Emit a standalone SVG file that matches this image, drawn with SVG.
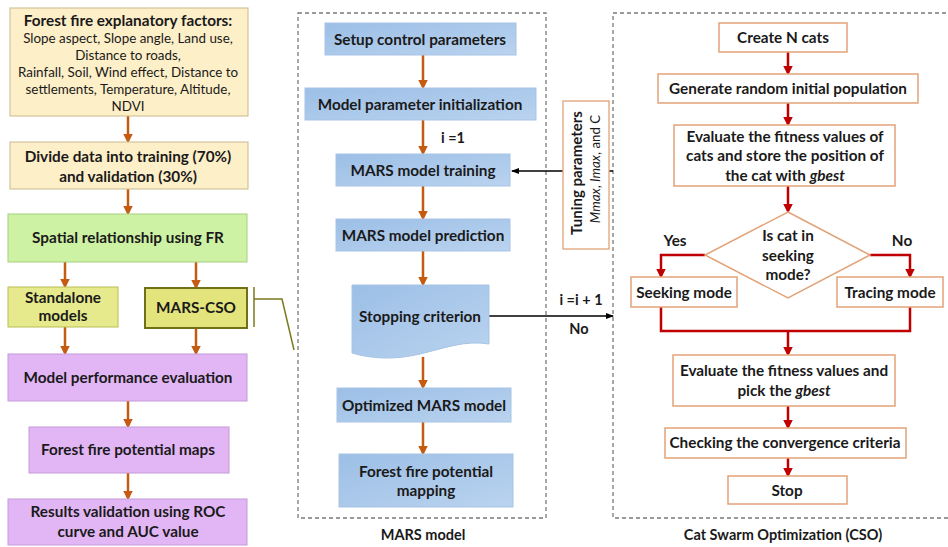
<svg xmlns="http://www.w3.org/2000/svg" width="948" height="547" viewBox="0 0 948 547">
<style>
text{font-family:Lato,"Open Sans","Liberation Sans",sans-serif;font-weight:bold;font-size:15.3px;fill:#1a1a1a;text-anchor:middle}
.reg{font-weight:normal;font-size:13.4px}
.it{font-style:italic}
.cap{font-size:14.5px}
.yel{fill:#fdefc8;stroke:#c9b98d;stroke-width:1}
.grn{fill:#cdf2a4;stroke:#a6cf80;stroke-width:1}
.olv{fill:#e6ea8c;stroke:#b9bd55;stroke-width:1}
.olvb{fill:#e3e57c;stroke:#707018;stroke-width:2}
.pur{fill:#e2b6f5;stroke:#c59ad8;stroke-width:1}
.blu{fill:url(#bg);stroke:#a7c3e5;stroke-width:1}
.cso{fill:#fff;stroke:#e2a378;stroke-width:1.5}
.dash{fill:none;stroke:#7a7a7a;stroke-width:1.3;stroke-dasharray:4 3}
.oa{stroke:#c55a11;stroke-width:2.5;fill:none;marker-end:url(#ao)}
.ra{stroke:#c00000;stroke-width:2.5;fill:none}
.rae{stroke:#c00000;stroke-width:2.5;fill:none;marker-end:url(#ar)}
.ba{stroke:#000;stroke-width:1.5;fill:none;marker-end:url(#ab)}
</style>
<defs>
<linearGradient id="bg" x1="0" y1="0" x2="1" y2="1">
<stop offset="0" stop-color="#9cbfe6"/>
<stop offset="1" stop-color="#bad3ef"/>
</linearGradient>
<marker id="ao" markerWidth="4" markerHeight="4" refX="3" refY="2" orient="auto" markerUnits="strokeWidth">
<path d="M0,0 L4,2 L0,4 Z" fill="#c55a11"/>
</marker>
<marker id="ar" markerWidth="4" markerHeight="4" refX="3" refY="2" orient="auto" markerUnits="strokeWidth">
<path d="M0,0 L4,2 L0,4 Z" fill="#c00000"/>
</marker>
<marker id="ab" markerWidth="8" markerHeight="6" refX="7" refY="3" orient="auto" markerUnits="userSpaceOnUse">
<path d="M0,0 L8,3 L0,6 Z" fill="#000"/>
</marker>
</defs>

<!-- containers -->
<g id="mars-container">
<rect class="dash" x="298" y="13" width="248" height="505"/>
<text x="423" y="540" class="cap">MARS model</text>
</g>
<g id="cso-container">
<path class="dash" d="M960,13 H613 V518 H960"/>
<text x="783" y="540" class="cap">Cat Swarm Optimization (CSO)</text>
</g>

<!-- connectors -->
<g id="connectors">
<line class="oa" x1="128" y1="116" x2="128" y2="141"/>
<line class="oa" x1="128" y1="189" x2="128" y2="213"/>
<line class="oa" x1="65" y1="262" x2="65" y2="286"/>
<line class="oa" x1="196" y1="262" x2="196" y2="287"/>
<line class="oa" x1="65" y1="327" x2="65" y2="353"/>
<line class="oa" x1="196" y1="328" x2="196" y2="353"/>
<line class="oa" x1="128" y1="401" x2="128" y2="426"/>
<line class="oa" x1="128" y1="473" x2="128" y2="498"/>
<polyline points="254,287 254,327" fill="none" stroke="#7a7a1e" stroke-width="1.5"/>
<polyline points="254,299 282,299 294,350" fill="none" stroke="#7a7a1e" stroke-width="1.5"/>

<line class="oa" x1="423" y1="55" x2="423" y2="87"/>
<line class="oa" x1="423" y1="120" x2="423" y2="153"/>
<line class="oa" x1="423" y1="186" x2="423" y2="218"/>
<line class="oa" x1="423" y1="251" x2="423" y2="284"/>
<line class="oa" x1="423" y1="357" x2="423" y2="387"/>
<line class="oa" x1="423" y1="422" x2="423" y2="453"/>
<text x="453" y="143" class="cap">i =1</text>

<line class="ba" x1="613" y1="171" x2="512" y2="171"/>
<line class="ba" x1="489" y1="316" x2="613" y2="316"/>
<text x="581" y="305" class="cap">i =i + 1</text>
<text x="579" y="334" class="cap">No</text>

<line class="rae" x1="788" y1="52" x2="788" y2="73"/>
<line class="rae" x1="788" y1="103" x2="788" y2="124"/>
<line class="rae" x1="788" y1="186" x2="788" y2="211"/>
<polyline class="rae" points="705,255 661,255 661,276"/>
<polyline class="rae" points="870,255 910,255 910,276"/>
<polyline class="ra" points="661,307 661,331 910,331 910,307"/>
<line class="rae" x1="788" y1="331" x2="788" y2="354"/>
<line class="rae" x1="788" y1="406" x2="788" y2="427"/>
<line class="rae" x1="788" y1="458" x2="788" y2="475"/>
<text x="675" y="246">Yes</text>
<text x="902" y="246">No</text>
</g>

<!-- left column -->
<g id="factors">
<rect class="yel" x="10" y="8" width="238" height="108"/>
<text x="128" y="26">Forest fire explanatory factors:</text>
<text x="128" y="43" class="reg">Slope aspect, Slope angle, Land use,</text>
<text x="128" y="60" class="reg">Distance to roads,</text>
<text x="128" y="77" class="reg">Rainfall, Soil, Wind effect, Distance to</text>
<text x="128" y="94" class="reg">settlements, Temperature, Altitude,</text>
<text x="128" y="111" class="reg">NDVI</text>
</g>
<g id="divide">
<rect class="yel" x="10" y="142" width="238" height="47"/>
<text x="128" y="162">Divide data into training (70%)</text>
<text x="128" y="182">and validation (30%)</text>
</g>
<g id="spatial">
<rect class="grn" x="8" y="214" width="239" height="48"/>
<text x="128" y="243">Spatial relationship using FR</text>
</g>
<g id="standalone">
<rect class="olv" x="8" y="287" width="110" height="40"/>
<text x="63" y="303">Standalone</text>
<text x="63" y="321">models</text>
</g>
<g id="marscso">
<rect class="olvb" x="145" y="288" width="102" height="40"/>
<text x="196" y="313">MARS-CSO</text>
</g>
<g id="performance">
<rect class="pur" x="8" y="354" width="239" height="47"/>
<text x="128" y="383">Model performance evaluation</text>
</g>
<g id="maps">
<rect class="pur" x="29" y="427" width="200" height="46"/>
<text x="128" y="455">Forest fire potential maps</text>
</g>
<g id="results">
<rect class="pur" x="8" y="499" width="239" height="46"/>
<text x="128" y="517">Results validation using ROC</text>
<text x="128" y="537">curve and AUC value</text>
</g>

<!-- MARS column -->
<g id="setup">
<rect class="blu" x="325" y="23" width="191" height="32"/>
<text x="420" y="45">Setup control parameters</text>
</g>
<g id="init">
<rect class="blu" x="305" y="88" width="231" height="32"/>
<text x="420" y="110">Model parameter initialization</text>
</g>
<g id="training">
<rect class="blu" x="336" y="154" width="174" height="32"/>
<text x="423" y="176">MARS model training</text>
</g>
<g id="prediction">
<rect class="blu" x="336" y="219" width="174" height="32"/>
<text x="423" y="241">MARS model prediction</text>
</g>
<g id="stopping">
<path class="blu" d="M352,285 H489 V344 C465,340 445,348 420,354 C395,360 372,359 352,353 Z"/>
<text x="420" y="322">Stopping criterion</text>
</g>
<g id="optimized">
<rect class="blu" x="337" y="388" width="174" height="34"/>
<text x="424" y="411">Optimized MARS model</text>
</g>
<g id="mapping">
<rect class="blu" x="339" y="454" width="174" height="53"/>
<text x="426" y="477">Forest fire potential</text>
<text x="426" y="496">mapping</text>
</g>

<!-- tuning -->
<g id="tuning">
<rect x="563" y="101" width="46" height="148" fill="#fff" stroke="#e2a378" stroke-width="1.3"/>
<text transform="translate(582,173) rotate(-90)" style="font-size:15px">Tuning parameters</text>
<text transform="translate(600,169) rotate(-90)" style="font-weight:normal;font-size:13.3px"><tspan class="it">Mmax</tspan>, <tspan class="it">Imax</tspan>, and C</text>
</g>

<!-- CSO column -->
<g id="create">
<rect class="cso" x="719" y="23" width="128" height="29"/>
<text x="783" y="43">Create N cats</text>
</g>
<g id="generate">
<rect class="cso" x="658" y="74" width="260" height="29"/>
<text x="788" y="94">Generate random initial population</text>
</g>
<g id="evaluate1">
<rect class="cso" x="674" y="125" width="221" height="61"/>
<text x="785" y="142">Evaluate the fitness values of</text>
<text x="785" y="161">cats and store the position of</text>
<text x="785" y="181">the cat with <tspan class="it">gbest</tspan></text>
</g>
<g id="decision">
<polygon points="788,212 870,255 788,298 705,255" fill="#fff" stroke="#e2a378" stroke-width="1.5"/>
<text x="788" y="241">Is cat in</text>
<text x="788" y="261">seeking</text>
<text x="788" y="280">mode?</text>
</g>
<g id="seeking">
<rect class="cso" x="631" y="277" width="106" height="30"/>
<text x="684" y="298">Seeking mode</text>
</g>
<g id="tracing">
<rect class="cso" x="837" y="277" width="106" height="30"/>
<text x="890" y="298">Tracing mode</text>
</g>
<g id="evaluate2">
<rect class="cso" x="673" y="355" width="222" height="51"/>
<text x="784" y="376">Evaluate the fitness values and</text>
<text x="784" y="396">pick the <tspan class="it">gbest</tspan></text>
</g>
<g id="checking">
<rect class="cso" x="665" y="428" width="241" height="30"/>
<text x="785" y="448">Checking the convergence criteria</text>
</g>
<g id="stop">
<rect class="cso" x="728" y="476" width="119" height="28"/>
<text x="787" y="496">Stop</text>
</g>
</svg>
